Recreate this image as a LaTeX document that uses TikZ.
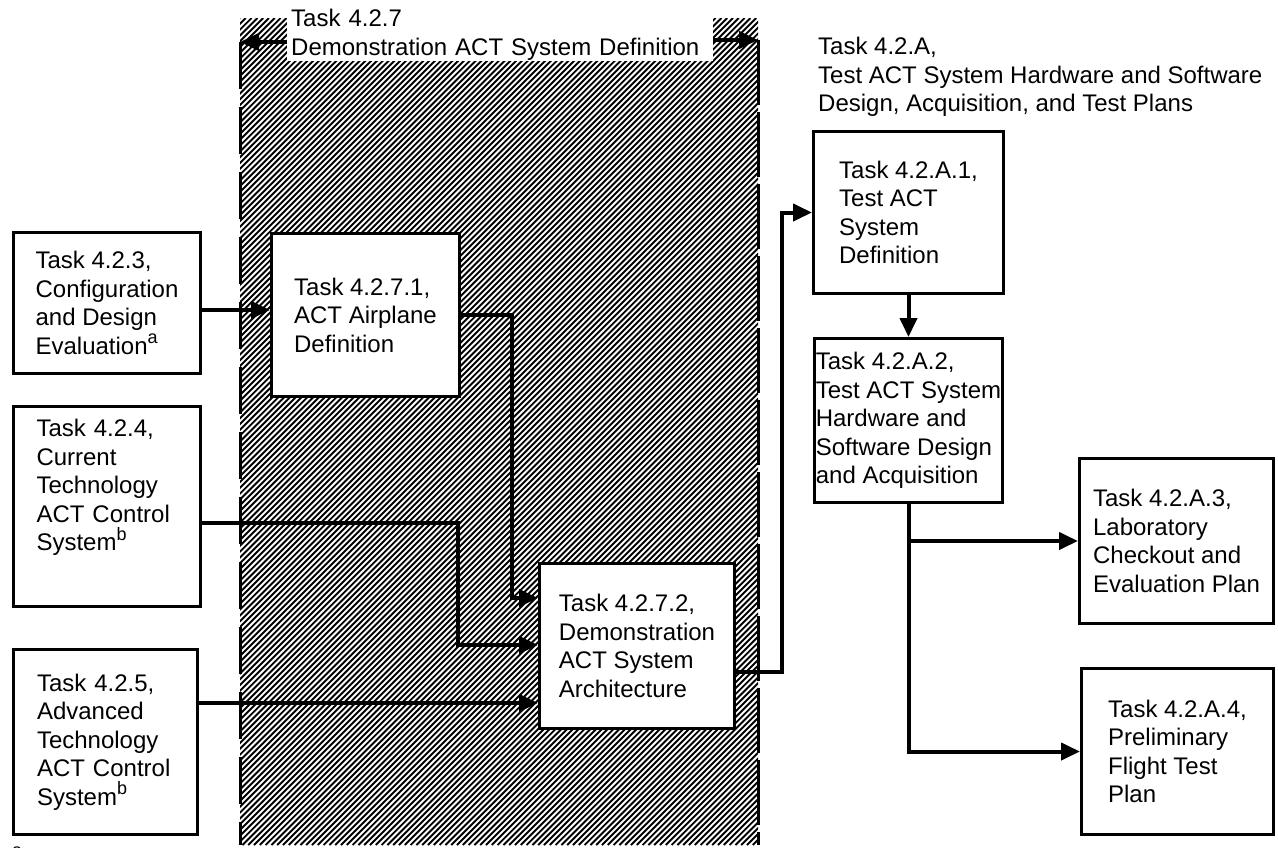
\documentclass[tikz,border=0pt]{standalone}
\usepackage{fontspec}
\setmainfont{Liberation Sans}
\usetikzlibrary{arrows.meta}
\newcommand{\sups}[1]{\raisebox{0.45em}{\fontsize{18}{18}\selectfont #1}}
\begin{document}
\begin{tikzpicture}[x=1pt,y=-1pt,
  txt/.style={font=\fontsize{24}{28.5}\selectfont},
  box/.style={txt, draw, line width=3pt, fill=white, align=left, anchor=north west, inner sep=0pt},
  arr/.style={line width=4pt, -{Triangle[length=19pt,width=17pt]}},
  bound/.style={line width=3pt}]
\useasboundingbox (0,0) rectangle (1278,847);
% hatched region
\begin{scope}
\clip (240,18) rectangle (758,845);
\foreach \i in {0,...,235} {
  \draw[line width=1.9pt] ({240-827+\i*5.8},845) -- ++(827,-827);
}
\end{scope}
% label of task 4.2.7
\node[txt, fill=white, anchor=north west, align=left, text width=418pt, inner xsep=4pt, inner ysep=1pt] (lbl) at (287,8) {Task 4.2.7\\Demonstration ACT System Definition};
\coordinate (L0) at (240,42);
\coordinate (L1) at (240,845);
\coordinate (R0) at (758,40);
\coordinate (R1) at (758,845);
\draw[bound, dash pattern=on 47pt off 18pt] (L0) -- (L1);
\draw[bound, dash pattern=on 65pt off 7pt] (R0) -- (R1);
\draw[arr] (lbl.west |- L0) -- (L0);
\draw[arr] (lbl.east |- R0) -- (R0);
% boxes
\node[box, minimum width=187pt, minimum height=141pt] (b1) at (12,231) {Task 4.2.3,\\Configuration\\and Design\\Evaluation\sups{a}};
\node[box, minimum width=187pt, minimum height=200pt, text width=141pt] (b2) at (12,405) {Task 4.2.4,\\Current\\Technology\\ACT Control\\System\sups{b}\\[14pt]\mbox{}};
\node[box, minimum width=184pt, minimum height=185pt, text width=137pt] (b3) at (12,648) {Task 4.2.5,\\Advanced\\Technology\\ACT Control\\System\sups{b}};
\node[box, minimum width=188pt, minimum height=163pt] (b4) at (270,232) {Task 4.2.7.1,\\ACT Airplane\\Definition};
\node[box, minimum width=195pt, minimum height=165pt] (b5) at (538,562) {Task 4.2.7.2,\\Demonstration\\ACT System\\Architecture};
\node[box, minimum width=190pt, minimum height=162pt] (b6) at (812,130) {Task 4.2.A.1,\\Test ACT\\System\\Definition};
\node[box, minimum width=188pt, minimum height=164pt] (b7) at (813,337) {Task 4.2.A.2,\\Test ACT System\\Hardware and\\Software Design\\and Acquisition};
\node[box, minimum width=194pt, minimum height=165pt] (b8) at (1078,457) {Task 4.2.A.3,\\Laboratory\\Checkout and\\Evaluation Plan};
\node[box, minimum width=192pt, minimum height=166pt] (b9) at (1080,667) {Task 4.2.A.4,\\Preliminary\\Flight Test\\Plan};
% header of task 4.2.A
\node[txt, anchor=north west, align=left, inner sep=0pt] (hdr) at (818,37) {Task 4.2.A,\\Test ACT System Hardware and Software\\Design, Acquisition, and Test Plans};
% footnote fragment
\node[anchor=base west, inner sep=0pt, font=\fontsize{18}{18}\selectfont] (fn) at (12,856) {a};
% connectors
\coordinate (y1) at (0,310);
\draw[arr] (b1.east |- y1) -- (b4.west |- y1);
\coordinate (k1) at (512,598);
\draw[arr] (b4.east) -| (k1) -- (b5.west |- k1);
\coordinate (y2) at (0,523);
\coordinate (k2) at (458,645);
\draw[arr] (b2.east |- y2) -| (k2) -- (b5.west |- k2);
\coordinate (y3) at (0,703);
\draw[arr] (b3.east |- y3) -- (b5.west |- y3);
\coordinate (k3) at (782,672);
\draw[arr] (b5.east |- k3) -- (k3) |- (b6.west);
\draw[arr] (b6.south) -- (b7.north);
\draw[arr] (b7.south) |- (b9.west);
\coordinate (k4) at (b7.south |- b8.west);
\draw[arr] (k4) -- (b8.west);
\end{tikzpicture}
\end{document}
